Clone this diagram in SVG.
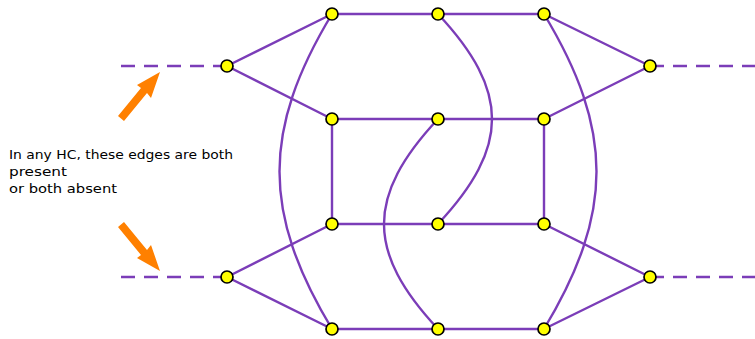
<svg xmlns="http://www.w3.org/2000/svg" width="755" height="339" viewBox="0 0 755 339">
<style>
.e{stroke:#7b3db8;stroke-width:2.4;fill:none;stroke-linecap:round}
.d{stroke:#7b3db8;stroke-width:2.4;fill:none;stroke-dasharray:14 9}
.n{fill:#ffff00;stroke:#000;stroke-width:1.7}
.a{fill:#ff8000;stroke:none}
.t{font-family:"DejaVu Sans",sans-serif;font-size:13px;fill:#000}
</style>
<rect width="755" height="339" fill="#fff"/>
<g id="connectors">
<line class="d" x1="121" y1="66" x2="227" y2="66"/>
<line class="d" x1="121" y1="277" x2="227" y2="277"/>
<line class="d" x1="650" y1="66" x2="755" y2="66"/>
<line class="d" x1="650" y1="277" x2="755" y2="277"/>
<path class="e" d="M227,66 L332,14 M227,66 L332,119 M227,277 L332,224 M227,277 L332,329"/>
<path class="e" d="M650,66 L544,14 M650,66 L544,119 M650,277 L544,224 M650,277 L544,329"/>
<path class="e" d="M332,14 H544 M332,119 H544 M332,224 H544 M332,329 H544"/>
<path class="e" d="M332,119 V224 M544,119 V224"/>
<path class="e" d="M332,14 C262,130 262,213 332,329"/>
<path class="e" d="M544,14 C614,130 614,213 544,329"/>
<path class="e" d="M438,14 C510,91 510,147 438,224"/>
<path class="e" d="M438,119 C366,196 366,252 438,329"/>
</g>
<g id="arrow-top">
<path class="a" d="M160,72 L151,98 L147,93 L124,121 L118,116 L141,88 L137,85 Z"/>
</g>
<g id="arrow-bottom">
<path class="a" d="M160,271 L137,258 L141,255 L118,227 L124,222 L147,250 L151,245 Z"/>
</g>
<g id="label">
<text class="t" x="9" y="159" textLength="224" lengthAdjust="spacingAndGlyphs">In any HC, these edges are both</text>
<text class="t" x="9" y="176" textLength="58" lengthAdjust="spacingAndGlyphs">present</text>
<text class="t" x="9" y="193" textLength="108" lengthAdjust="spacingAndGlyphs">or both absent</text>
</g>
<g id="n-l1"><circle class="n" cx="227" cy="66" r="6"/></g>
<g id="n-l2"><circle class="n" cx="227" cy="277" r="6"/></g>
<g id="n-r1"><circle class="n" cx="650" cy="66" r="6"/></g>
<g id="n-r2"><circle class="n" cx="650" cy="277" r="6"/></g>
<g id="n-a1"><circle class="n" cx="332" cy="14" r="6"/></g>
<g id="n-a2"><circle class="n" cx="438" cy="14" r="6"/></g>
<g id="n-a3"><circle class="n" cx="544" cy="14" r="6"/></g>
<g id="n-b1"><circle class="n" cx="332" cy="119" r="6"/></g>
<g id="n-b2"><circle class="n" cx="438" cy="119" r="6"/></g>
<g id="n-b3"><circle class="n" cx="544" cy="119" r="6"/></g>
<g id="n-c1"><circle class="n" cx="332" cy="224" r="6"/></g>
<g id="n-c2"><circle class="n" cx="438" cy="224" r="6"/></g>
<g id="n-c3"><circle class="n" cx="544" cy="224" r="6"/></g>
<g id="n-d1"><circle class="n" cx="332" cy="329" r="6"/></g>
<g id="n-d2"><circle class="n" cx="438" cy="329" r="6"/></g>
<g id="n-d3"><circle class="n" cx="544" cy="329" r="6"/></g>
</svg>
